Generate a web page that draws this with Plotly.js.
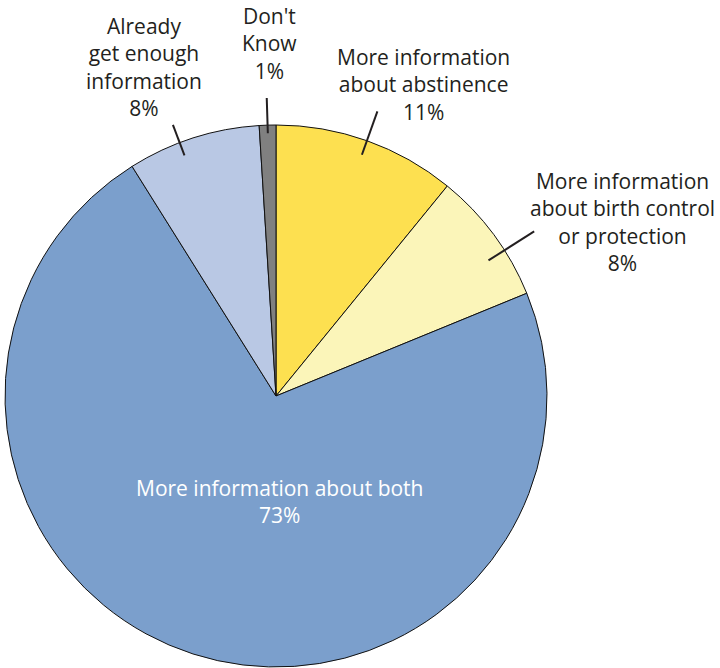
<!DOCTYPE html>
<html><head><meta charset="utf-8">
<script src="https://cdn.plot.ly/plotly-3.0.1.min.js"></script>
<style>html,body{margin:0;padding:0;background:#fff}</style>
</head><body><div id="chart" style="width:720px;height:668px"></div>
<script>
const categories = [
  "More information<br>about abstinence",
  "More information<br>about birth control<br>or protection",
  "More information about both",
  "Already<br>get enough<br>information",
  "Don't<br>Know"
];
const values = [11, 8, 73, 8, 1];
const colors = ["#FDE050", "#FBF5B9", "#7B9FCC", "#B9C8E4", "#808080"];

const W = 720, H = 668;
const cx = 276, cy = 396, R = 271;
const font = "Open Sans, Noto Sans, sans-serif";
const textColor = "#231F20";

// label placement (text centre in px) and leader line radii
const labelPos = [
  {x: 423, y: 84}, {x: 622, y: 222}, null, {x: 144, y: 67}, {x: 269, y: 44}
];
const leader = [
  [0.945, 1.115, 0], [0.93, 1.13, 4], null, [0.95, 1.07, -3], [0.97, 1.10, 0]
];

const total = values.reduce((a, b) => a + b, 0);
const px = x => x / W, py = y => 1 - y / H;

const annotations = [];
const shapes = [];
let cum = 0;
values.forEach((v, i) => {
  const mid = (cum + v / 2) / total * 2 * Math.PI;
  cum += v;
  if (i === 2) {
    annotations.push({
      xref: "paper", yref: "paper", x: px(280), y: py(501),
      xanchor: "center", yanchor: "middle",
      text: categories[i] + "<br>" + v + "%", showarrow: false,
      font: {family: font, size: 21, color: "#ffffff"}, align: "center"
    });
    return;
  }
  const ang = mid + leader[i][2] * Math.PI / 180;
  const r1 = leader[i][0] * R, r2 = leader[i][1] * R;
  shapes.push({
    type: "line", xref: "paper", yref: "paper",
    x0: px(cx + r1 * Math.sin(ang)), y0: py(cy - r1 * Math.cos(ang)),
    x1: px(cx + r2 * Math.sin(ang)), y1: py(cy - r2 * Math.cos(ang)),
    line: {color: textColor, width: 2}
  });
  annotations.push({
    xref: "paper", yref: "paper", x: px(labelPos[i].x), y: py(labelPos[i].y),
    xanchor: "center", yanchor: "middle",
    text: categories[i] + "<br>" + v + "%", showarrow: false,
    font: {family: font, size: 21, color: textColor}, align: "center"
  });
});

const data = [{
  type: "pie",
  labels: categories,
  values: values,
  sort: false,
  direction: "clockwise",
  rotation: 0,
  textinfo: "none",
  hoverinfo: "none",
  marker: {colors: colors, line: {color: "#111111", width: 1}},
  domain: {x: [px(cx - R), px(cx + R)], y: [py(cy + R), py(cy - R)]},
  showlegend: false
}];

const layout = {
  width: W, height: H,
  margin: {l: 0, r: 0, t: 0, b: 0},
  paper_bgcolor: "#ffffff",
  showlegend: false,
  annotations: annotations,
  shapes: shapes
};

Plotly.newPlot("chart", data, layout, {displayModeBar: false, staticPlot: true});
</script></body></html>
